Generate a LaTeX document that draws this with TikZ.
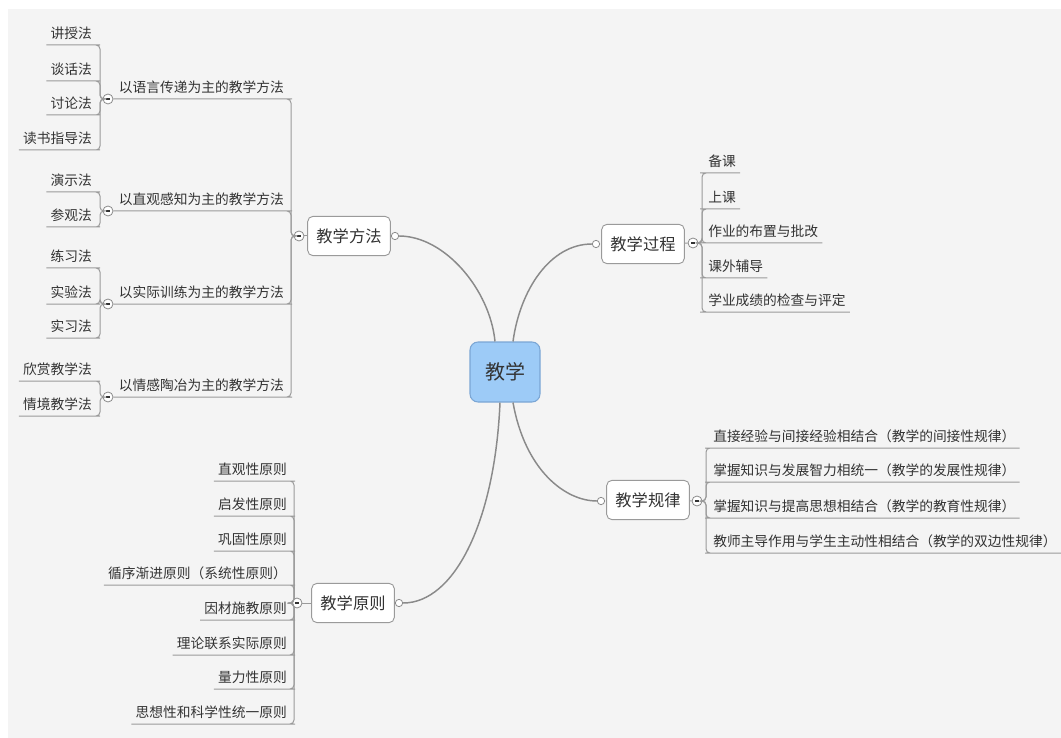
\documentclass[tikz,border=0pt]{standalone}
\usepackage{fontspec}
\setmainfont{Noto Sans CJK SC}
\usetikzlibrary{positioning}

\definecolor{bgGray}{HTML}{F4F4F4}
\definecolor{lineGray}{HTML}{8A8A8A}
\definecolor{twigGray}{HTML}{9A9A9A}
\definecolor{boxBlue}{HTML}{9DCBF7}
\definecolor{boxEdge}{HTML}{7BA6D4}
\definecolor{inkGray}{HTML}{333333}

\begin{document}
\begin{tikzpicture}[x=0.75pt,y=-0.75pt,
    every node/.style={text=inkGray},
    root/.style={draw=boxEdge, fill=boxBlue, rounded corners=6pt, line width=0.8pt,
      minimum width=52.5pt, minimum height=45pt, font=\fontsize{15}{18}\selectfont},
    topic/.style={draw=twigGray, fill=white, rounded corners=4pt, line width=0.7pt,
      minimum width=62pt, minimum height=29.5pt, font=\fontsize{12.2}{14}\selectfont},
    leafL/.style={anchor=south east, inner xsep=3pt, inner ysep=3.5pt, font=\fontsize{10.3}{12}\selectfont},
    leafR/.style={anchor=south west, inner xsep=3pt, inner ysep=3.5pt, font=\fontsize{10.3}{12}\selectfont},
    knob/.style={circle, draw=lineGray, fill=white, inner sep=0pt, minimum size=5.5pt, line width=0.6pt},
    fold/.style={circle, draw=lineGray, fill=white, inner sep=0pt, minimum size=7.5pt, line width=0.6pt,
      path picture={\draw[inkGray, line width=0.9pt]
        ([xshift=-1.6pt]path picture bounding box.center) -- ([xshift=1.6pt]path picture bounding box.center);}},
    branch/.style={draw=twigGray, line width=0.75pt, rounded corners=3pt},
    curve/.style={draw=lineGray, line width=1.1pt}
  ]
  % canvas
  \useasboundingbox (0,0) rectangle (1061,738);
  \fill[white] (0,0) rectangle (1061,738);
  \fill[bgGray] (8,9) rectangle (1061,738);

  % centre
  \node[root] (jiaoxue) at (505,372) {教学};

  % main topics
  \node[topic] (fangfa) at (349,236) {教学方法};
  \node[knob] (fangfaKnob) at (395,236) {};
  \node[fold] (fangfaFold) at (299,236) {};
  \node[topic] (guocheng) at (643,244) {教学过程};
  \node[knob] (guochengKnob) at (596,244) {};
  \node[fold] (guochengFold) at (693,243) {};
  \node[topic] (guilv) at (648,500) {教学规律};
  \node[knob] (guilvKnob) at (601,501) {};
  \node[fold] (guilvFold) at (697,501) {};
  \node[topic] (yuanze) at (353,603) {教学原则};
  \node[knob] (yuanzeKnob) at (399,603) {};
  \node[fold] (yuanzeFold) at (297,603) {};

  \draw[branch] (fangfaFold) -- (fangfa);
  \draw[branch] (guochengFold) -- (guocheng);
  \draw[branch] (guilvFold) -- (guilv);
  \draw[branch] (yuanzeFold) -- (yuanze);

  % curves from the centre
  \draw[curve] ([xshift=-7.5pt]jiaoxue.north) .. controls (490,290) and (445,236) .. (fangfaKnob.east);
  \draw[curve] ([xshift=6pt]jiaoxue.north) .. controls (520,290) and (550,244) .. (guochengKnob.west);
  \draw[curve] ([xshift=6pt]jiaoxue.south) .. controls (525,470) and (565,501) .. (guilvKnob.west);
  \draw[curve] ([xshift=-3.75pt]jiaoxue.south) .. controls (495,520) and (455,603) .. (yuanzeKnob.east);

  % teaching methods, second level
  \node[leafL] (yuyan) at (288,99) {以语言传递为主的教学方法};
  \node[leafL] (zhiguan) at (288,211) {以直观感知为主的教学方法};
  \node[leafL] (xunlian) at (288,304) {以实际训练为主的教学方法};
  \node[leafL] (qinggan) at (288,397) {以情感陶冶为主的教学方法};
  \node[fold] (yuyanFold) at (108,99) {};
  \node[fold] (zhiguanFold) at (108,211) {};
  \node[fold] (xunlianFold) at (108,304) {};
  \node[fold] (qingganFold) at (108,397) {};
  \foreach \sub in {yuyan,zhiguan,xunlian,qinggan}
    \draw[branch] (fangfaFold.west) -- (291,236) |- (\sub.south east) -- (\sub Fold.east);

  % teaching methods, third level
  \foreach \name/\yy [count=\i] in {讲授法/45,谈话法/81,讨论法/115,读书指导法/150} {
    \node[leafL] (yuyan\i) at (96,\yy) {\name};
    \draw[branch] (yuyanFold.west) -- (100,99) |- (yuyan\i.south east) -- (yuyan\i.south west);
  }
  \foreach \name/\yy [count=\i] in {演示法/192,参观法/227} {
    \node[leafL] (zhiguan\i) at (96,\yy) {\name};
    \draw[branch] (zhiguanFold.west) -- (100,211) |- (zhiguan\i.south east) -- (zhiguan\i.south west);
  }
  \foreach \name/\yy [count=\i] in {练习法/268,实验法/304,实习法/338} {
    \node[leafL] (xunlian\i) at (96,\yy) {\name};
    \draw[branch] (xunlianFold.west) -- (100,304) |- (xunlian\i.south east) -- (xunlian\i.south west);
  }
  \foreach \name/\yy [count=\i] in {欣赏教学法/381,情境教学法/416} {
    \node[leafL] (qinggan\i) at (96,\yy) {\name};
    \draw[branch] (qingganFold.west) -- (100,397) |- (qinggan\i.south east) -- (qinggan\i.south west);
  }

  % teaching process
  \foreach \name/\yy [count=\i] in {备课/173,上课/209,作业的布置与批改/243,课外辅导/278,学业成绩的检查与评定/312} {
    \node[leafR] (guocheng\i) at (704,\yy) {\name};
    \draw[branch] (guochengFold.east) -- (702,243) |- (guocheng\i.south west) -- (guocheng\i.south east);
  }

  % teaching laws
  \foreach \name/\yy [count=\i] in {直接经验与间接经验相结合（教学的间接性规律）/448,
      掌握知识与发展智力相统一（教学的发展性规律）/482,
      掌握知识与提高思想相结合（教学的教育性规律）/518,
      教师主导作用与学生主动性相结合（教学的双边性规律）/553} {
    \node[leafR] (guilv\i) at (709,\yy) {\name};
    \draw[branch] (guilvFold.east) -- (706,501) |- (guilv\i.south west) -- (guilv\i.south east);
  }

  % teaching principles
  \foreach \name/\yy [count=\i] in {直观性原则/481,启发性原则/516,巩固性原则/551,
      循序渐进原则（系统性原则）/585,因材施教原则/620,理论联系实际原则/655,
      量力性原则/689,思想性和科学性统一原则/724} {
    \node[leafL] (yuanze\i) at (291,\yy) {\name};
    \draw[branch] (yuanzeFold.west) -- (294,603) |- (yuanze\i.south east) -- (yuanze\i.south west);
  }
\end{tikzpicture}
\end{document}
